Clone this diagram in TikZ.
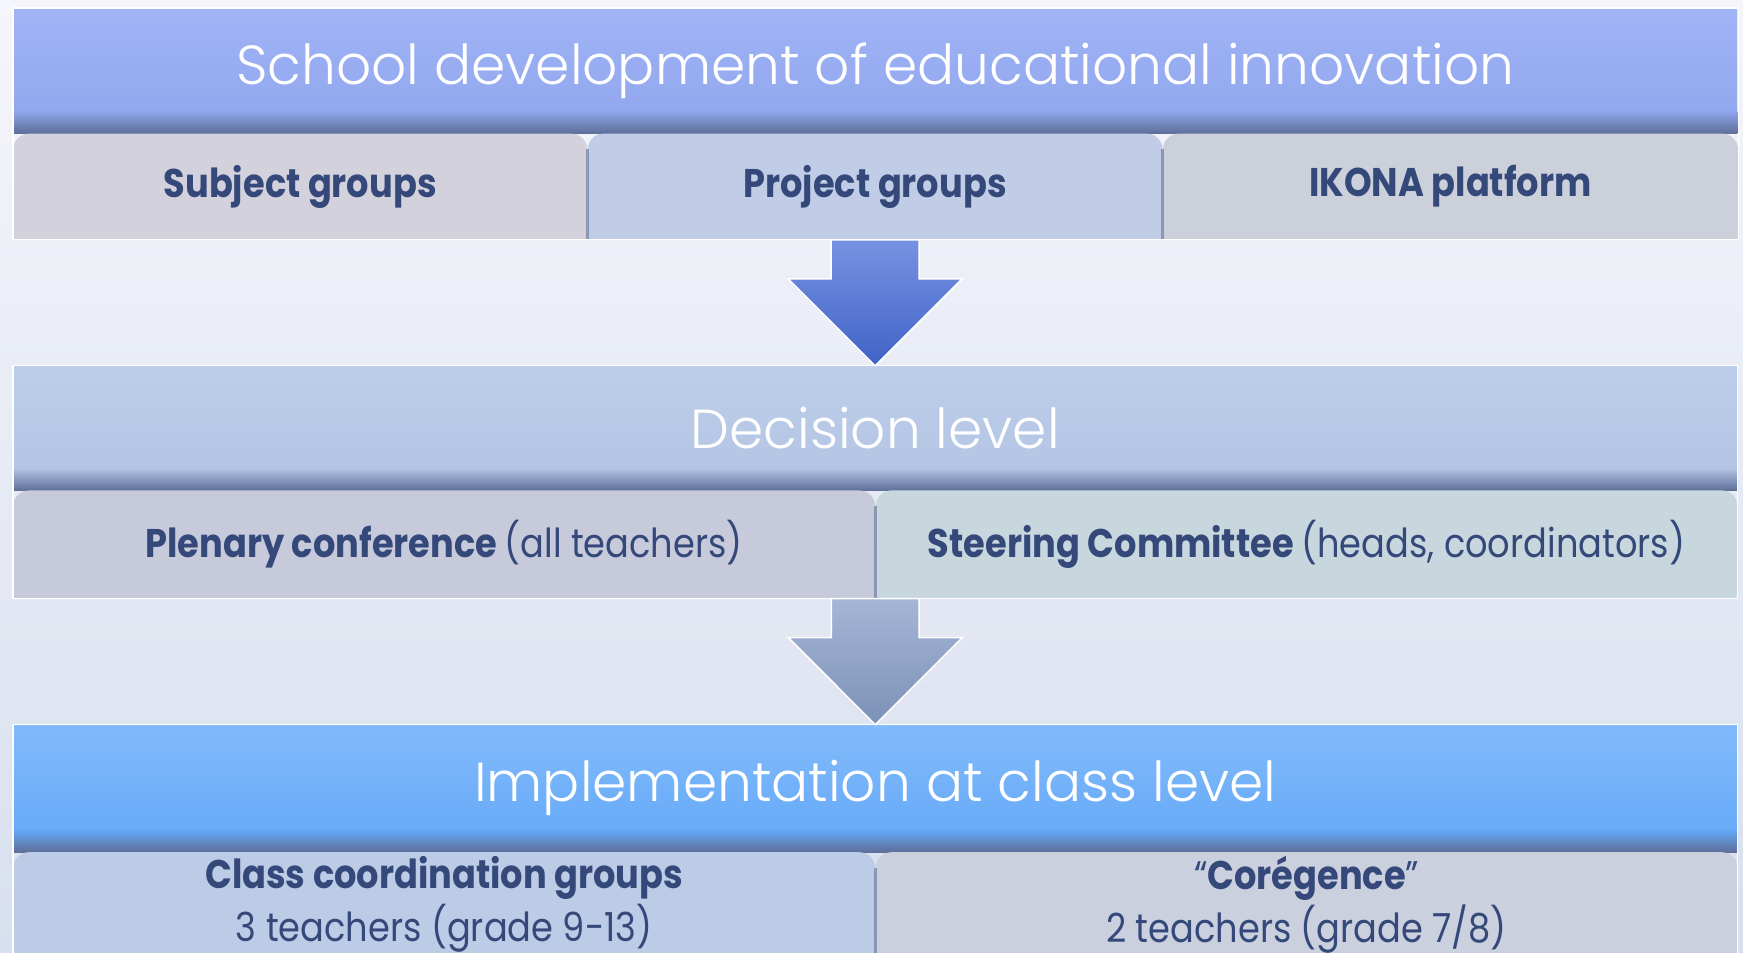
\documentclass[tikz,border=0pt]{standalone}
\usepackage{fontspec}
\setmainfont{Poppins}
\newfontfamily\tabfont[FakeStretch=0.88]{Poppins}
\newfontfamily\lightfont{Poppins Light}
\usetikzlibrary{positioning}
\usetikzlibrary{calc}

\definecolor{bgtop}{HTML}{F5F6FB}
\definecolor{bgbot}{HTML}{D8DFEE}
\definecolor{navy}{HTML}{34487A}
\definecolor{headAtop}{HTML}{A0B4F6}
\definecolor{headAbot}{HTML}{8FA5EC}
\definecolor{headBtop}{HTML}{BDCEEA}
\definecolor{headBbot}{HTML}{B3C4E4}
\definecolor{headCtop}{HTML}{82BAFB}
\definecolor{headCbot}{HTML}{62A8F7}
\definecolor{tabgrey}{HTML}{D3D2DC}
\definecolor{tabblue}{HTML}{C1CDE7}
\definecolor{tabslate}{HTML}{CCD0DB}
\definecolor{tablav}{HTML}{C7CADB}
\definecolor{tabsage}{HTML}{C8D6DD}
\definecolor{tabsky}{HTML}{BCCBE6}
\definecolor{tabsteel}{HTML}{CAD0DE}
\definecolor{arrAtop}{HTML}{7792E2}
\definecolor{arrAbot}{HTML}{3F63C6}
\definecolor{arrBtop}{HTML}{A5B6D6}
\definecolor{arrBbot}{HTML}{7C91B6}
\definecolor{shadowc}{HTML}{5E6F99}

\tikzset{
  header/.style={rectangle, anchor=north west, inner sep=0pt, minimum width=1724pt,
    text=white, font=\lightfont\fontsize{55}{60}\selectfont},
  tab/.style={rectangle, anchor=north west, inner sep=0pt, minimum height=106pt,
    text=navy, font=\tabfont\fontsize{40}{53}\selectfont, align=center,
    path picture={\fill[#1, rounded corners=16pt]
      ($(path picture bounding box.south west)+(0,40)$) -- (path picture bounding box.north west)
      -- (path picture bounding box.north east) -- ($(path picture bounding box.south east)+(0,40)$) -- cycle;}},
  tabshadow/.style={shadowc, opacity=0.6, line width=3pt},
  bandline/.style={draw=white, line width=1.2pt},
  blockarrow/.style={draw=white, line width=1.5pt}
}

\begin{document}
\begin{tikzpicture}[x=1pt,y=-1pt]
\useasboundingbox (0,0) rectangle (1743,953);
\shade[top color=bgtop, bottom color=bgbot] (0,0) rectangle (1743,953);

% school level
\node[header, minimum height=125pt, top color=headAtop, bottom color=headAbot] (school) at (13,8)
  {\raisebox{-4pt}{School development of educational innovation}};
\shade[top color=headAbot, bottom color=shadowc] ($(school.south west)+(0,-22)$) rectangle (school.south east);
\node[tab=tabgrey, minimum width=574pt, below=0pt of school.south west, anchor=north west] (subj) {\bfseries Subject groups};
\node[tab=tabblue, minimum width=575pt, right=0pt of subj] (proj) {\bfseries Project groups};
\node[tab=tabslate, minimum width=575pt, right=0pt of proj] (ikona) {\bfseries IKONA platform};
\draw[tabshadow] ($(proj.north west)+(0,16)$) -- (proj.south west);
\draw[tabshadow] ($(ikona.north west)+(0,16)$) -- (ikona.south west);
\draw[bandline] (school.north west) rectangle (ikona.south east);

% decision level
\node[header, minimum height=124pt, top color=headBtop, bottom color=headBbot,
  below=126pt of subj.south west, anchor=north west] (decision) {Decision level};
\shade[top color=headBbot, bottom color=shadowc] ($(decision.south west)+(0,-22)$) rectangle (decision.south east);
\node[tab=tablav, minimum width=862pt, minimum height=108pt, below=0pt of decision.south west, anchor=north west] (plen)
  {\bfseries Plenary conference \mdseries(all teachers)};
\node[tab=tabsage, minimum width=862pt, minimum height=108pt, right=0pt of plen] (steer)
  {\bfseries Steering Committee \mdseries(heads, coordinators)};
\draw[tabshadow] ($(steer.north west)+(0,16)$) -- (steer.south west);
\draw[bandline] (decision.north west) rectangle (steer.south east);

% class level
\node[header, minimum height=127pt, top color=headCtop, bottom color=headCbot,
  below=126pt of plen.south west, anchor=north west] (impl) {Implementation at class level};
\shade[top color=headCbot, bottom color=shadowc] ($(impl.south west)+(0,-22)$) rectangle (impl.south east);
\node[tab=tabsky, minimum width=862pt, minimum height=105pt, below=0pt of impl.south west, anchor=north west] (coord)
  {\bfseries Class coordination groups\\3 teachers (grade 9-13)};
\node[tab=tabsteel, minimum width=862pt, minimum height=105pt, right=0pt of coord] (coreg)
  {“\textbf{Corégence}”\\2 teachers (grade 7/8)};
\draw[tabshadow] ($(coreg.north west)+(0,16)$) -- (coreg.south west);
\draw[bandline] (impl.north west) rectangle (coreg.south east);

% arrows
\path[blockarrow, top color=arrAtop, bottom color=arrAbot] ($(proj.south)+(-44,0)$) -- ++(0,39) -- ++(-43,0)
  -- (decision.north) -- ++(87,-87) -- ++(-43,0) -- ++(0,-39) -- cycle;
\path[blockarrow, top color=arrBtop, bottom color=arrBbot] ($(plen.south east)+(-44,0)$) -- ++(0,39) -- ++(-43,0)
  -- (impl.north) -- ++(87,-87) -- ++(-43,0) -- ++(0,-39) -- cycle;
\end{tikzpicture}
\end{document}
